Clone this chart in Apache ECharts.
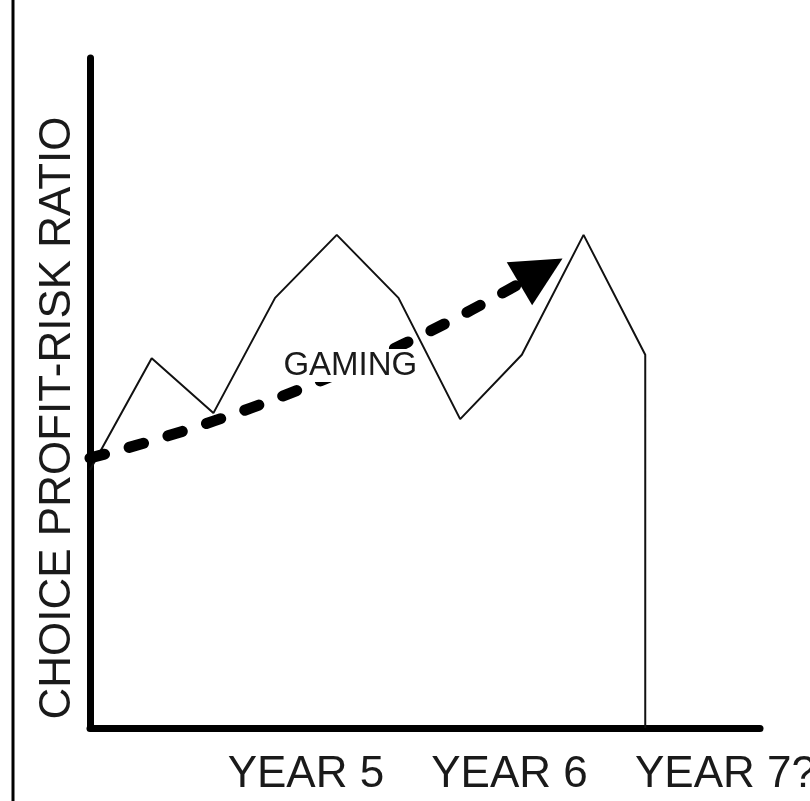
<!DOCTYPE html>
<html>
<head>
  <meta charset="utf-8">
  <style>
    html, body { width: 100%; height: 100%; margin: 0; padding: 0; overflow: hidden; background: #fff; }
    #container { width: 810px; height: 801px; position: absolute; top: 0; left: 0; }
  </style>
</head>
<body>
  <div id="container"></div>
  <script src="https://cdn.jsdelivr.net/npm/echarts@6/dist/echarts.min.js"></script>
  <script>
    // profit-risk ratio path (x in steps, y in % of axis height)
    var stepX = [0, 1, 2, 3, 4, 5, 6, 7, 8, 9, 9];
    var ratioY = [38.5, 55.2, 47.0, 64.2, 73.6, 64.2, 46.1, 55.7, 73.6, 55.7, 0];

    // gaming trend arrow, start and end (data coords)
    var trendStart = [0, 40.3];
    var trendEnd = [7.31, 68.2];
    var trendLabel = 'GAMING';
    var trendLabelPos = [4.22, 54.1];

    // x labels and where they sit
    var yearLabels = ['YEAR 5', 'YEAR 6', 'YEAR 7?'];
    var yearPos = [3.5, 6.8, 10.3];

    var yName = 'CHOICE PROFIT-RISK RATIO';
    var font = '"Liberation Sans", Arial, sans-serif';

    var chart = echarts.init(document.getElementById('container'));

    chart.setOption({
      animation: false,
      grid: { left: 90, right: 50, top: 58, bottom: 73, outerBoundsMode: 'none', containLabel: false },
      xAxis: {
        type: 'value',
        min: 0,
        max: 10.86,
        splitLine: { show: false },
        axisLine: { show: true, lineStyle: { color: '#000', width: 7 } },
        axisTick: { show: false },
        axisLabel: {
          customValues: yearPos,
          margin: 25,
          fontSize: 44,
          fontFamily: font,
          color: '#1a1a1a',
          formatter: function (v) {
            var i = yearPos.indexOf(v);
            return i >= 0 ? yearLabels[i] : '';
          }
        }
      },
      yAxis: {
        type: 'value',
        min: 0,
        max: 100,
        name: yName,
        nameLocation: 'middle',
        nameGap: 10,
        nameTextStyle: {
          fontSize: 44,
          fontFamily: font,
          color: '#1a1a1a',
          padding: [0, 50, 0, 0]
        },
        splitLine: { show: false },
        axisLine: { show: true, lineStyle: { color: '#000', width: 7 } },
        axisTick: { show: false },
        axisLabel: { show: false }
      },
      graphic: [{
        type: 'line',
        shape: { x1: 13, y1: 0, x2: 13, y2: 801 },
        style: { stroke: '#000', lineWidth: 3 }
      }],
      series: [{
        type: 'line',
        data: stepX.map(function (x, i) { return [x, ratioY[i]]; }),
        symbol: 'none',
        lineStyle: { color: '#111', width: 2 },
        z: 3,
        markPoint: {
          silent: true,
          z: 10,
          symbol: 'rect',
          symbolSize: 1,
          itemStyle: { color: 'rgba(0,0,0,0)' },
          label: {
            show: true,
            position: 'inside',
            formatter: trendLabel,
            fontSize: 33,
            fontFamily: font,
            color: '#1a1a1a',
            backgroundColor: '#fff',
            padding: [0, 1]
          },
          data: [{ coord: trendLabelPos }]
        }
      }, {
        // gaming trend: bent dashed arrow
        type: 'lines',
        coordinateSystem: 'cartesian2d',
        silent: true,
        z: 4,
        symbol: ['none', 'triangle'],
        symbolSize: [54, 50],
        lineStyle: { color: '#000', width: 11, type: [15, 25.5], cap: 'round', curveness: -0.07, opacity: 1 },
        data: [{ coords: [trendStart, trendEnd] }]
      }]
    });
  </script>
</body>
</html>
